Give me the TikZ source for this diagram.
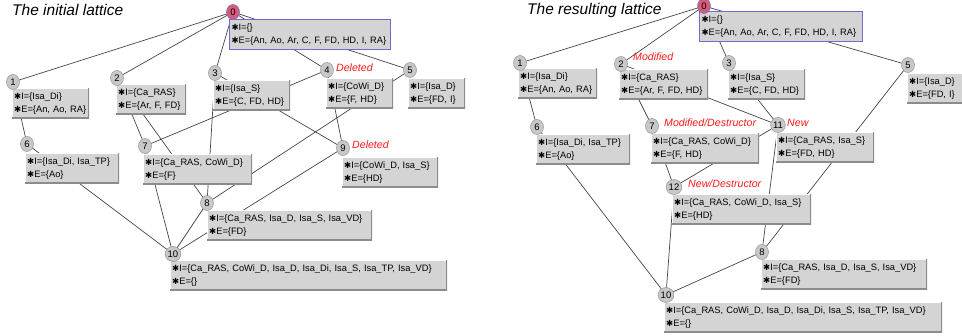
\documentclass[tikz,border=0pt]{standalone}
\usepackage{fontspec}
\setmainfont{Liberation Sans}
\newfontfamily\dejavu{DejaVu Sans}
\usetikzlibrary{shapes.geometric,backgrounds}
\definecolor{boxfill}{RGB}{212,212,212}
\definecolor{cfill}{RGB}{200,200,200}
\definecolor{cdraw}{RGB}{150,150,150}
\definecolor{redfill}{RGB}{214,92,120}
\definecolor{selblue}{RGB}{110,110,210}
\definecolor{edgecol}{RGB}{70,70,70}
\definecolor{labred}{RGB}{255,25,25}
\newcommand\bugicon{{\dejavu\fontsize{8.5}{8.5}\selectfont ✱}}
\newcommand\li[1]{\mbox{\bugicon#1}}
\tikzset{
  bx/.style={fill=boxfill, anchor=north west, inner xsep=2pt, inner ysep=0pt,
    minimum height=30pt, text width=#1, align=left,
    font=\fontsize{9.3}{13}\selectfont,
    path picture={
      \draw[white,line width=1.4pt] (path picture bounding box.south west) |- (path picture bounding box.north east);
      \draw[black!45,line width=1.6pt] (path picture bounding box.south west) -| (path picture bounding box.north east);}},
  selbx/.style={bx=#1, path picture={}, draw=selblue, line width=1pt},
  cc/.style={ellipse, fill=cfill, draw=cdraw, line width=0.5pt, minimum width=13pt,
    minimum height=15pt, inner sep=0.3pt, font=\fontsize{9.5}{10}\selectfont},
  rc/.style={cc, fill=redfill, draw=selblue},
  lab/.style={anchor=west, text=labred, font=\fontsize{10.6}{12}\selectfont\itshape, inner sep=0pt},
  ttl/.style={anchor=west, font=\fontsize{15.5}{17}\selectfont\itshape, inner sep=0pt},
  ed/.style={draw=edgecol, line width=0.7pt}
}
\begin{document}
\begin{tikzpicture}[x=1pt,y=-1pt]
\useasboundingbox (0,0) rectangle (962,336);
% ---------- left lattice ----------
\node[ttl] (t1) at (12,10) {The initial lattice};
\node[selbx=157pt] (A0) at (229,19) {\li{I=\{\}}\\\li{E=\{An, Ao, Ar, C, F, FD, HD, I, RA\}}};
\node[bx=73pt] (A1) at (12,88) {\li{I=\{Isa\_Di\}}\\\li{E=\{An, Ao, RA\}}};
\node[bx=66pt] (A2) at (116,84) {\li{I=\{Ca\_RAS\}}\\\li{E=\{Ar, F, FD\}}};
\node[bx=73pt] (A3) at (213,80) {\li{I=\{Isa\_S\}}\\\li{E=\{C, FD, HD\}}};
\node[bx=63pt] (A4) at (326,78) {\li{I=\{CoWi\_D\}}\\\li{E=\{F, HD\}}};
\node[bx=53pt] (A5) at (408,78) {\li{I=\{Isa\_D\}}\\\li{E=\{FD, I\}}};
\node[bx=90pt] (A6) at (25,153) {\li{I=\{Isa\_Di, Isa\_TP\}}\\\li{E=\{Ao\}}};
\node[bx=105pt] (A7) at (143,154) {\li{I=\{Ca\_RAS, CoWi\_D\}}\\\li{E=\{F\}}};
\node[bx=92pt] (A9) at (342,157) {\li{I=\{CoWi\_D, Isa\_S\}}\\\li{E=\{HD\}}};
\node[bx=161pt] (A8) at (207,210) {\li{I=\{Ca\_RAS, Isa\_D, Isa\_S, Isa\_VD\}}\\\li{E=\{FD\}}};
\node[bx=273pt] (A10) at (170,260) {\li{I=\{Ca\_RAS, CoWi\_D, Isa\_D, Isa\_Di, Isa\_S, Isa\_TP, Isa\_VD\}}\\\li{E=\{\}}};
\node[rc] (a0) at (233,12) {0};
\node[cc] (a1) at (13,82) {1};
\node[cc] (a2) at (117,78) {2};
\node[cc] (a3) at (215,73) {3};
\node[cc] (a4) at (327,70) {4};
\node[cc] (a5) at (410,70) {5};
\node[cc] (a6) at (27,144) {6};
\node[cc] (a7) at (145,146) {7};
\node[cc] (a9) at (343,148) {9};
\node[cc] (a8) at (207,203) {8};
\node[cc] (a10) at (173,254) {10};
\node[lab] (d4) at (336,68) {Deleted};
\node[lab] (d9) at (352,145) {Deleted};
% ---------- right lattice ----------
\node[ttl] (t2) at (527,10) {The resulting lattice};
\node[selbx=159pt] (B0) at (699,11) {\li{I=\{\}}\\\li{E=\{An, Ao, Ar, C, F, FD, HD, I, RA\}}};
\node[bx=75pt] (B1) at (518,68) {\li{I=\{Isa\_Di\}}\\\li{E=\{An, Ao, RA\}}};
\node[bx=85pt] (B2) at (619,69) {\li{I=\{Ca\_RAS\}}\\\li{E=\{Ar, F, FD, HD\}}};
\node[bx=73pt] (B3) at (728,69) {\li{I=\{Isa\_S\}}\\\li{E=\{C, FD, HD\}}};
\node[bx=53pt] (B5) at (907,73) {\li{I=\{Isa\_D\}}\\\li{E=\{FD, I\}}};
\node[bx=90pt] (B6) at (536,134) {\li{I=\{Isa\_Di, Isa\_TP\}}\\\li{E=\{Ao\}}};
\node[bx=104pt] (B7) at (651,133) {\li{I=\{Ca\_RAS, CoWi\_D\}}\\\li{E=\{F, HD\}}};
\node[bx=94pt] (B11) at (776,132) {\li{I=\{Ca\_RAS, Isa\_S\}}\\\li{E=\{FD, HD\}}};
\node[bx=135pt] (B12) at (672,194) {\li{I=\{Ca\_RAS, CoWi\_D, Isa\_S\}}\\\li{E=\{HD\}}};
\node[bx=162pt] (B8) at (761,259) {\li{I=\{Ca\_RAS, Isa\_D, Isa\_S, Isa\_VD\}}\\\li{E=\{FD\}}};
\node[bx=274pt] (B10) at (664,302) {\li{I=\{Ca\_RAS, CoWi\_D, Isa\_D, Isa\_Di, Isa\_S, Isa\_TP, Isa\_VD\}}\\\li{E=\{\}}};
\node[rc] (b0) at (704,6) {0};
\node[cc] (b1) at (520,63) {1};
\node[cc] (b2) at (621,64) {2};
\node[cc] (b3) at (729,63) {3};
\node[cc] (b5) at (908,65) {5};
\node[cc] (b6) at (537,127) {6};
\node[cc] (b7) at (652,126) {7};
\node[cc] (b11) at (778,125) {11};
\node[cc] (b12) at (674,187) {12};
\node[cc] (b8) at (762,252) {8};
\node[cc] (b10) at (666,295) {10};
\node[lab] (m2) at (633,57) {Modified};
\node[lab] (m7) at (664,123) {Modified/Destructor};
\node[lab] (n11) at (787,123) {New};
\node[lab] (n12) at (688,184) {New/Destructor};
% ---------- edges ----------
\begin{scope}[on background layer]
\fill[white] (0,0) rectangle (962,336);
\draw[ed] (a0.center) -- (a1.center);
\draw[ed] (a0.center) -- (a2.center);
\draw[ed] (a0.center) -- (a3.center);
\draw[ed] (a0.center) -- (a4.center);
\draw[ed] (a0.center) -- (a5.center);
\draw[ed] (a1.center) -- (a6.center);
\draw[ed] (a2.center) -- (a7.center);
\draw[ed] (a2.center) -- (a8.center);
\draw[ed] (a3.center) -- (a8.center);
\draw[ed] (a3.center) -- (a9.center);
\draw[ed] (a4.center) -- (a7.center);
\draw[ed] (a4.center) -- (a9.center);
\draw[ed] (a5.center) -- (a8.center);
\draw[ed] (a6.center) -- (a10.center);
\draw[ed] (a7.center) -- (a10.center);
\draw[ed] (a9.center) -- (a10.center);
\draw[ed] (a8.center) -- (a10.center);
\draw[ed] (b0.center) -- (b1.center);
\draw[ed] (b0.center) -- (b2.center);
\draw[ed] (b0.center) -- (b3.center);
\draw[ed] (b0.center) -- (b5.center);
\draw[ed] (b1.center) -- (b6.center);
\draw[ed] (b2.center) -- (b7.center);
\draw[ed] (b2.center) -- (b11.center);
\draw[ed] (b3.center) -- (b11.center);
\draw[ed] (b5.center) -- (b8.center);
\draw[ed] (b7.center) -- (b12.center);
\draw[ed] (b11.center) -- (b12.center);
\draw[ed] (b11.center) -- (b8.center);
\draw[ed] (b12.center) -- (b10.center);
\draw[ed] (b6.center) -- (b10.center);
\draw[ed] (b8.center) -- (b10.center);
\end{scope}
\end{tikzpicture}
\end{document}
